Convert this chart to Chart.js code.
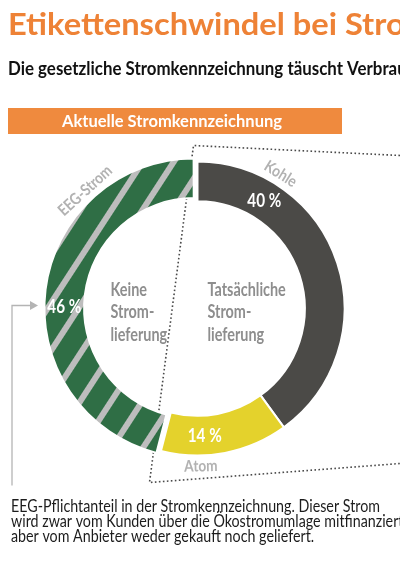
<!DOCTYPE html>
<html>
<head>
<meta charset="utf-8">
<script src="https://cdn.jsdelivr.net/npm/chart.js@4.4.1/dist/chart.umd.min.js"></script>
<style>
  html, body { margin: 0; padding: 0; background: #fff; overflow: hidden; }
  canvas { display: block; }
</style>
</head>
<body>
<canvas id="chart" width="400" height="566"></canvas>
<script>
// Data
const categories = ['Kohle', 'Atom', 'EEG-Strom'];
const shares = [40, 14, 46];
const valueLabels = ['40 %', '14 %', '46 %'];
const centerLeft = ['Keine', 'Strom-', 'lieferung'];
const centerRight = ['Tatsächliche', 'Strom-', 'lieferung'];
const titleText = 'Etikettenschwindel bei Strom';
const subtitleText = 'Die gesetzliche Stromkennzeichnung täuscht Verbraucher';
const bannerText = 'Aktuelle Stromkennzeichnung';
const footerLines = [
    'EEG-Pflichtanteil in der Stromkennzeichnung. Dieser Strom',
    'wird zwar vom Kunden über die Ökostromumlage mitfinanziert,',
    'aber vom Anbieter weder gekauft noch geliefert.'
];

const FONT = 'Lato, "Noto Sans", sans-serif';
const ORANGE = '#ee8236';
const GREEN = '#2f6e45';
const STRIPE = '#bdbdbd';
const DARK = '#4b4a47';
const YELLOW = '#e4d22c';
const LABEL_GRAY = '#b2b2b2';
const CENTER_GRAY = '#8e8e8e';

// Label placement along each arc (fraction of the arc's sweep)
const valueLabelFrac = [0.22, 0.65, 0.46];
const nameLabelFrac = [0.22, 0.69, 0.745];

/**
 * Hatched fill for the EEG share
 */
function makeHatch(ctx) {
    const tile = document.createElement('canvas');
    tile.width = 26;
    tile.height = 26;
    const t = tile.getContext('2d');
    t.fillStyle = GREEN;
    t.fillRect(0, 0, 26, 26);
    t.fillStyle = STRIPE;
    t.fillRect(0, 0, 6, 26);
    const pattern = ctx.createPattern(tile, 'repeat');
    pattern.setTransform(new DOMMatrix().rotateSelf(33));
    return pattern;
}

/**
 * Draw text condensed horizontally
 */
function drawText(ctx, text, x, y, font, color, sx, align) {
    ctx.save();
    ctx.font = font;
    ctx.fillStyle = color;
    ctx.textBaseline = 'alphabetic';
    const w = ctx.measureText(text).width * sx;
    let left = x;
    if (align === 'center') left = x - w / 2;
    if (align === 'right') left = x - w;
    ctx.translate(left, y);
    ctx.scale(sx, 1);
    ctx.textAlign = 'left';
    ctx.fillText(text, 0, 0);
    ctx.restore();
}

// Scale factor so that `prefix` spans `width` pixels
function fitScale(ctx, font, prefix, width) {
    ctx.save();
    ctx.font = font;
    const s = width / ctx.measureText(prefix).width;
    ctx.restore();
    return s;
}

// Same translation Chart.js applies to an offset arc
function arcShift(arc) {
    const offset = (arc.options.offset || 0) / 4;
    const circ = arc.endAngle - arc.startAngle;
    const fix = 1 - Math.sin(Math.min(Math.PI, circ));
    const total = offset + offset * fix;
    const half = (arc.startAngle + arc.endAngle) / 2;
    return { dx: Math.cos(half) * total, dy: Math.sin(half) * total };
}

const frame = {
    id: 'frame',
    beforeDatasetsDraw(chart) {
        const ctx = chart.ctx;
        const arc = chart.getDatasetMeta(0).data[0];
        const cx = arc.x, cy = arc.y, R = arc.outerRadius;
        const W = chart.width;

        // dotted outline of the real supply
        ctx.save();
        ctx.strokeStyle = '#4a4a4a';
        ctx.lineWidth = 1.6;
        ctx.setLineDash([1.6, 2.4]);
        ctx.beginPath();
        ctx.moveTo(W, cy - R - 6);
        ctx.lineTo(cx - 4, cy - R - 16);
        ctx.lineTo(cx - 48, cy + R + 27);
        ctx.lineTo(W, cy + R + 8);
        ctx.stroke();
        ctx.restore();

        // grey pointer from the footnote
        ctx.save();
        ctx.strokeStyle = '#b4b4b4';
        ctx.fillStyle = '#b4b4b4';
        ctx.lineWidth = 1.3;
        ctx.beginPath();
        ctx.moveTo(12, cy + R + 30);
        ctx.lineTo(12, cy - 3);
        ctx.lineTo(31, cy - 3);
        ctx.stroke();
        ctx.beginPath();
        ctx.moveTo(38, cy - 3);
        ctx.lineTo(30, cy - 7.5);
        ctx.lineTo(30, cy + 1.5);
        ctx.closePath();
        ctx.fill();
        ctx.restore();
    },
    afterDraw(chart) {
        const ctx = chart.ctx;
        const meta = chart.getDatasetMeta(0);
        const first = meta.data[0];
        const cx = first.x, cy = first.y;

        // headings
        const titleFont = 'bold 31px ' + FONT;
        drawText(ctx, titleText, 8, 35, titleFont, ORANGE,
            fitScale(ctx, titleFont, 'Etikettenschwindel bei', 329), 'left');
        const subFont = 'bold 18px ' + FONT;
        drawText(ctx, subtitleText, 8, 75, subFont, '#111',
            fitScale(ctx, subFont, 'Die gesetzliche Stromkennzeichnung täuscht', 335), 'left');

        // banner
        ctx.fillStyle = '#ef8a3e';
        ctx.fillRect(8, 108, 334, 26);
        const bannerFont = 'bold 17px ' + FONT;
        drawText(ctx, bannerText, 172, 127, bannerFont, '#fff',
            fitScale(ctx, bannerFont, bannerText, 220), 'center');

        // footer note
        const footFont = '17px ' + FONT;
        const fs = fitScale(ctx, footFont, footerLines[0], 369);
        footerLines.forEach((line, i) => {
            drawText(ctx, line, 11, 512 + i * 15, footFont, '#1c1c1c', fs, 'left');
        });

        // centre captions
        const capFont = 'bold 18px ' + FONT;
        centerLeft.forEach((line, i) => {
            drawText(ctx, line, cx - 87, cy - 13 + i * 22.5, capFont, CENTER_GRAY, 0.8, 'left');
        });
        centerRight.forEach((line, i) => {
            drawText(ctx, line, cx + 10, cy - 13 + i * 22.5, capFont, CENTER_GRAY, 0.8, 'left');
        });

        // labels on and around the ring
        meta.data.forEach((arc, i) => {
            const s = arcShift(arc);
            const ax = arc.x + s.dx, ay = arc.y + s.dy;
            const sweep = arc.endAngle - arc.startAngle;

            const va = arc.startAngle + sweep * valueLabelFrac[i];
            const vr = (arc.innerRadius + arc.outerRadius) / 2;
            ctx.save();
            ctx.translate(ax + Math.cos(va) * vr, ay + Math.sin(va) * vr);
            drawText(ctx, valueLabels[i], 0, 6.5, 'bold 18px ' + FONT, '#fff', 0.85, 'center');
            ctx.restore();

            const na = arc.startAngle + sweep * nameLabelFrac[i];
            let rot = na + Math.PI / 2;
            const flip = Math.cos(rot) < 0;
            if (flip) rot -= Math.PI;
            const nr = arc.outerRadius + (flip ? 16 : 6);
            ctx.save();
            ctx.translate(ax + Math.cos(na) * nr, ay + Math.sin(na) * nr);
            ctx.rotate(rot);
            drawText(ctx, categories[i], 0, 0, 'bold 16px ' + FONT, LABEL_GRAY, 0.85, 'center');
            ctx.restore();
        });
    }
};

const canvas = document.getElementById('chart');
const ctx = canvas.getContext('2d');

new Chart(ctx, {
    type: 'doughnut',
    data: {
        labels: categories,
        datasets: [{
            data: shares,
            backgroundColor: [DARK, YELLOW, makeHatch(ctx)],
            borderColor: '#ffffff',
            borderWidth: 2,
            offset: [0, 0, 14]
        }]
    },
    options: {
        responsive: false,
        animation: false,
        radius: 147,
        cutout: '73%',
        layout: { padding: { left: 40, right: 45, top: 150, bottom: 99 } },
        events: [],
        plugins: {
            legend: { display: false },
            title: { display: false },
            tooltip: { enabled: false }
        }
    },
    plugins: [frame]
});
</script>
</body>
</html>
